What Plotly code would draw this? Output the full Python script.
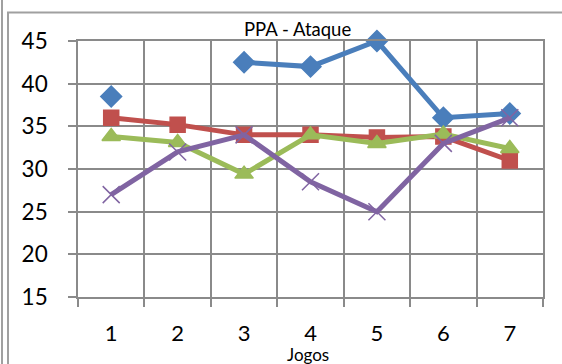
import plotly.graph_objects as go

# Games (x axis categories) and the four series plotted per game
jogos = [1, 2, 3, 4, 5, 6, 7]
serie_azul = [38.5, None, 42.5, 42, 45, 36, 36.5]
serie_vermelha = [36, 35.2, 34, 34, 33.7, 33.8, 31]
serie_verde = [33.8, 33.1, 29.4, 34, 33, 34.1, 32.4]
serie_roxa = [27, 32, 34, 28.5, 25, 33, 36]

y_ticks = [15, 20, 25, 30, 35, 40, 45]

FONT = "Lato"
GRID = "#8a8a8a"

series = [
    (serie_azul, "#4a7ebb", "diamond", 16),
    (serie_vermelha, "#c0504d", "square", 15),
    (serie_verde, "#9bbb59", "triangle-up", 16),
    (serie_roxa, "#8064a2", "x-thin-open", 17),
]

fig = go.Figure()
for vals, color, symbol, size in series:
    fig.add_trace(go.Scatter(
        x=jogos, y=vals, mode="lines+markers",
        line=dict(color=color, width=5),
        marker=dict(symbol=symbol, size=size, color=color,
                    line=dict(color=color, width=1.5)),
        connectgaps=False, showlegend=False, cliponaxis=False,
    ))

boundaries = [j - 0.5 for j in jogos] + [jogos[-1] + 0.5]

W, H = 562, 364
L, R, T, B = 78, 19, 41, 67
pw, ph = W - L - R, H - T - B


def px(xp):
    return (xp - L) / pw


def py(yp):
    return (H - B - yp) / ph


fig.update_layout(
    width=W, height=H,
    margin=dict(l=L, r=R, t=T, b=B),
    paper_bgcolor="white", plot_bgcolor="white",
    font=dict(family=FONT, color="black"),
    xaxis=dict(
        range=[0.5, 7.5], tickvals=jogos, ticktext=[str(j) for j in jogos],
        showgrid=False, zeroline=False, ticks="", tickfont=dict(size=22),
        ticklabelstandoff=16, showline=True, mirror=True,
        linecolor=GRID, linewidth=1.6,
        minor=dict(tickvals=boundaries, showgrid=True, gridcolor=GRID,
                   gridwidth=1.6, ticks="outside", ticklen=8,
                   tickcolor=GRID, tickwidth=1.6),
    ),
    yaxis=dict(
        range=[15, 45], tickvals=y_ticks, showgrid=True, gridcolor=GRID,
        gridwidth=1.6, zeroline=False, ticks="outside", ticklen=8,
        tickcolor=GRID, tickwidth=1.6, tickfont=dict(size=22.5),
        ticklabelstandoff=16, showline=True, mirror=True,
        linecolor=GRID, linewidth=1.6,
    ),
)

fig.add_annotation(text="PPA - Ataque", x=px(297), y=py(29), xref="paper", yref="paper",
                   xanchor="center", yanchor="middle",
                   showarrow=False, font=dict(size=18.5, family=FONT))
fig.add_annotation(text="Jogos", x=px(308), y=py(354), xref="paper", yref="paper",
                   xanchor="center", yanchor="middle",
                   showarrow=False, font=dict(size=17, family=FONT))

# Outer chart frame: double line on the left and the top edge
frame = dict(color="#a0a0a0", width=2)
fig.add_shape(type="line", xref="paper", yref="paper", x0=px(2), x1=px(2),
              y0=py(0), y1=py(364), line=frame, layer="above")
fig.add_shape(type="rect", xref="paper", yref="paper", x0=px(8), x1=px(580),
              y0=py(12.5), y1=py(380), line=frame, fillcolor="rgba(0,0,0,0)",
              layer="above")

fig.write_html("out.html", config={"displayModeBar": False})
